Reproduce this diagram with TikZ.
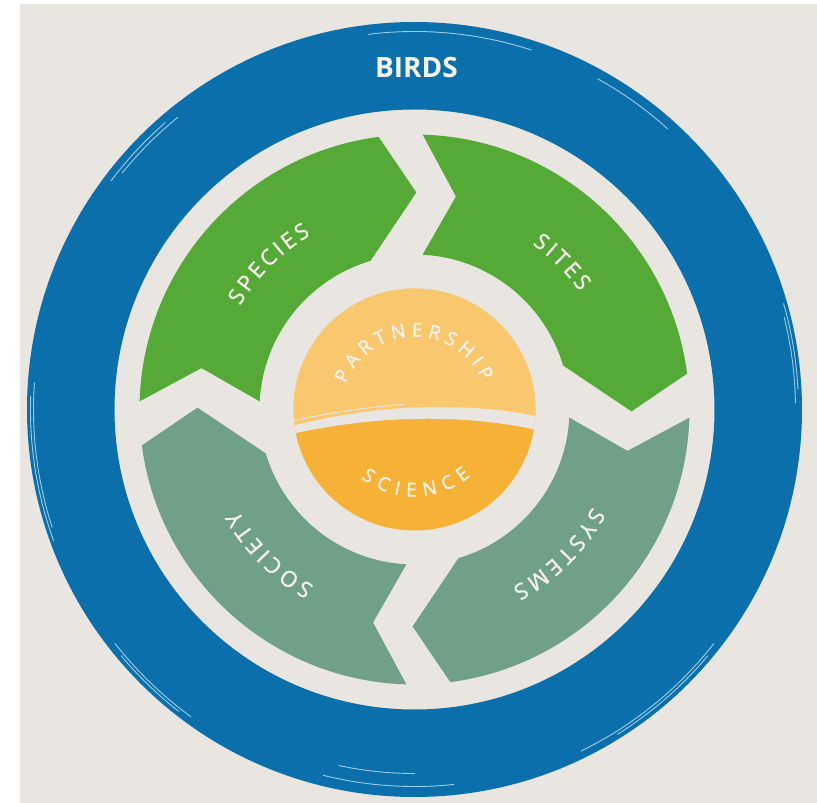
\documentclass[tikz,border=0pt]{standalone}
\usepackage{fontspec}
\newfontfamily\osans{Open Sans}
\newfontfamily\osansm{Open Sans}[FakeBold=1.1]
\definecolor{bgc}{HTML}{E9E6E1}
\definecolor{bluec}{HTML}{0A6FAA}
\definecolor{brushc}{HTML}{9CCDEB}
\definecolor{greenc}{HTML}{55AA37}
\definecolor{sagec}{HTML}{70A086}
\definecolor{lorange}{HTML}{F9C86E}
\definecolor{dorange}{HTML}{F5B237}
\definecolor{txtc}{HTML}{F6F3EA}
\tikzset{
  brush/.style={draw=brushc, line width=0.9pt, line cap=round},
  letter/.style={anchor=base, inner sep=0pt, text=txtc}
}
% advance widths of Open Sans capitals, in em
\def\lwA{0.633}\def\lwC{0.631}\def\lwE{0.556}\def\lwH{0.738}\def\lwI{0.267}
\def\lwM{0.903}\def\lwN{0.756}\def\lwO{0.781}\def\lwP{0.601}\def\lwR{0.618}
\def\lwS{0.540}\def\lwT{0.554}\def\lwY{0.562}
% #1 radius, #2 mid angle, #3 dir (+1 ccw, -1 cw), #4 spacing, #5 font size,
% #6 name prefix, #7 letters, #8 font family switch
\newcommand\arclabel[8]{%
  \xdef\arctot{0}%
  \foreach \ch in {#7}{%
    \edef\lwcur{\csname lw\ch\endcsname}%
    \pgfmathsetmacro\arctmp{\arctot+\lwcur*#5+#4}%
    \xdef\arctot{\arctmp}}%
  \pgfmathsetmacro\arctmp{\arctot-#4}\xdef\arctot{\arctmp}%
  \xdef\arcpos{0}%
  \foreach \ch [count=\ci] in {#7}{%
    \edef\lwcur{\csname lw\ch\endcsname}%
    \pgfmathsetmacro\arcs{\arcpos+\lwcur*#5/2-\arctot/2}%
    \pgfmathsetmacro\arcang{#2+(#3)*deg(\arcs/#1)}%
    \pgfmathsetmacro\arcrot{\arcang+(#3)*90}%
    \node[letter, rotate=\arcrot, font=#8\fontsize{#5}{#5}\selectfont] (#6-\ci) at (\arcang:#1) {\ch};%
    \pgfmathsetmacro\arctmp{\arcpos+\lwcur*#5+#4}%
    \xdef\arcpos{\arctmp}}%
}
\begin{document}
\begin{tikzpicture}[x=1pt,y=1pt]
\useasboundingbox (-414.5,-393.5) rectangle (402.5,409.5);
\fill[white] (-414.5,-393.5) rectangle (402.5,409.5);
\fill[bgc] (-394.5,-393.5) rectangle (402.5,405.5);
% blue ring
\fill[bluec, even odd rule] (0,0) circle (387.5) (0,0) circle (300);
% brush strokes
\draw[brush] (97:378) arc[start angle=97, end angle=72, radius=378];
\draw[brush] (129:376) arc[start angle=129, end angle=141, radius=376];
\draw[brush] (131:380) arc[start angle=131, end angle=143, radius=380];
\draw[brush] (176:381) arc[start angle=176, end angle=198, radius=381];
\draw[brush] (178:384) arc[start angle=178, end angle=200, radius=384];
\draw[brush] (218:380) arc[start angle=218, end angle=234, radius=380];
\draw[brush] (220:383) arc[start angle=220, end angle=232, radius=383];
\draw[brush] (258:364) arc[start angle=258, end angle=270, radius=364];
\draw[brush] (256:377) arc[start angle=256, end angle=276, radius=377];
\draw[brush] (-38:380) arc[start angle=-38, end angle=-64, radius=380];
\draw[brush] (-40:383) arc[start angle=-40, end angle=-58, radius=383];
\draw[brush] (1:381) arc[start angle=1, end angle=14, radius=381];
\draw[brush] (3:384) arc[start angle=3, end angle=16, radius=384];
\draw[brush] (48:378) arc[start angle=48, end angle=61, radius=378];
% segments
\foreach \rot/\col in {0/greenc, -90/greenc, -180/sagec, -270/sagec}{
  \begin{scope}[rotate=\rot]
    \fill[\col] (178.3:275) arc[start angle=178.3, end angle=97.5, radius=275]
      -- (89.5:217) -- (106.5:155) arc[start angle=106.5, end angle=177, radius=155]
      -- (169:217) -- cycle;
  \end{scope}
}
% centre disc
\begin{scope}
  \clip (0,0) circle (121);
  \fill[dorange] (-125,-125) rectangle (125,125);
  \fill[bgc] (-125,-25) .. controls (-50,-8) and (40,-2) .. (125,-21) -- (125,125) -- (-125,125) -- cycle;
  \fill[lorange] (-125,-17) .. controls (-50,3) and (40,10) .. (125,-7) -- (125,125) -- (-125,125) -- cycle;
  \draw[bgc, line width=1pt] (-125,-12) .. controls (-80,-2) and (-40,3) .. (-10,5);
  \draw[bgc, line width=0.8pt] (-125,-21) .. controls (-80,-10) and (-40,-4) .. (-20,-2);
\end{scope}
% texts
\node[font=\osans\bfseries\fontsize{28}{28}\selectfont, text=txtc] (birds) at (2,342) {BIRDS};
\arclabel{203}{135}{-1}{3.3}{22}{species}{S,P,E,C,I,E,S}{\osansm}
\arclabel{203}{45}{-1}{3.3}{22}{sites}{S,I,T,E,S}{\osansm}
\arclabel{203}{-45}{-1}{3.8}{22}{systems}{S,Y,S,T,E,M,S}{\osansm}
\arclabel{203}{225}{-1}{3.8}{22}{society}{S,O,C,I,E,T,Y}{\osansm}
\arclabel{73}{91}{-1}{5.1}{19}{partner}{P,A,R,T,N,E,R,S,H,I,P}{\osansm}
\arclabel{87}{271}{1}{7.3}{19}{science}{S,C,I,E,N,C,E}{\osansm}
\end{tikzpicture}
\end{document}
